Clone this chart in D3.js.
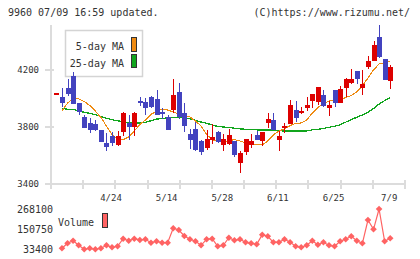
<!DOCTYPE html>
<html><head><meta charset="utf-8">
<script src="https://cdn.jsdelivr.net/npm/d3@7/dist/d3.min.js"></script>
<style>
html,body{margin:0;padding:0;background:#fff;}
svg{display:block;}
text{font-family:"DejaVu Sans Mono",monospace;fill:#333;}
</style></head>
<body>
<svg id="c" width="420" height="259"></svg>
<script>
const dates = ["4/10","4/11","4/12","4/15","4/16","4/17","4/18","4/19","4/22","4/23",
"4/24","4/26","4/30","5/1","5/2","5/7","5/8","5/9","5/10","5/13",
"5/14","5/15","5/16","5/17","5/20","5/21","5/22","5/23","5/24","5/27",
"5/28","5/29","5/30","5/31","6/3","6/4","6/5","6/6","6/7","6/10",
"6/11","6/12","6/13","6/14","6/17","6/18","6/19","6/20","6/21","6/24",
"6/25","6/26","6/27","6/28","7/1","7/2","7/3","7/4","7/5","7/8","7/9"];
const tickDates = ["4/24","5/14","5/28","6/11","6/25","7/9"];

const open  = [4040,4010,4075,4160,3970,3870,3830,3820,3780,3690,3735,3675,3765,3825,3800,3985,3975,4010,3995,3905,3870,3920,4045,3900,3750,3785,3700,3655,3710,3765,3675,3680,3700,3550,3625,3670,3745,3700,3825,3850,3710,3795,3820,3920,3910,3935,3980,3975,4025,3935,4060,3970,4075,4105,4195,4075,4225,4265,4435,4280,4125];
const high  = [4040,4075,4140,4185,3970,3885,3860,3850,3780,3760,3765,3770,3905,3885,3905,4010,4005,4015,4060,3935,3885,4135,4110,3965,3785,3835,3710,3780,3820,3775,3750,3785,3700,3635,3715,3750,3770,3765,3900,3900,3775,3830,3990,3980,3940,4010,4030,4080,4060,3985,4060,4085,4145,4205,4195,4200,4300,4405,4515,4280,4235];
const low   = [4040,3940,4015,3965,3885,3795,3760,3775,3695,3635,3665,3665,3735,3710,3735,3950,3885,3935,3885,3855,3780,3895,3855,3765,3645,3635,3605,3640,3680,3690,3635,3675,3590,3480,3605,3650,3710,3665,3790,3780,3635,3755,3820,3835,3890,3915,3935,3955,3940,3880,3940,3970,4010,4105,4100,4025,4210,4265,4285,4135,4070];
const close = [4040,3970,4030,3965,3905,3795,3780,3780,3695,3665,3685,3735,3895,3795,3900,3970,3935,3940,3885,3890,3780,4025,3870,3810,3710,3635,3625,3715,3730,3695,3715,3745,3600,3620,3715,3700,3710,3765,3855,3780,3735,3810,3955,3865,3915,3955,4030,4080,3950,3955,3970,4070,4135,4135,4140,4100,4265,4375,4295,4135,4220];

const ma5  = [null,3912,3968,4000,3997,3979,3951,3912,3867,3807,3747,3716,3712,3730,3772,3818,3849,3888,3912,3924,3919,3905,3891,3881,3870,3842,3807,3747,3712,3698,3697,3702,3712,3702,3688,3679,3677,3674,3702,3744,3772,3786,3810,3826,3828,3849,3898,3937,3961,3982,3989,3993,4007,4021,4046,4088,4144,4200,4242,4251,4260];
const ma25 = [null,3931,3924,3924,3912,3903,3896,3886,3874,3861,3851,3844,3836,3832,3830,3828,3832,3844,3855,3861,3863,3865,3867,3867,3858,3847,3835,3826,3814,3804,3800,3797,3791,3787,3784,3782,3780,3779,3779,3777,3774,3772,3772,3772,3772,3772,3780,3784,3790,3798,3805,3815,3834,3853,3868,3884,3903,3929,3961,3985,4006];

const volume = [null,37500,66800,82100,55100,31600,37500,31600,37500,55100,43400,49200,93800,82100,93800,86200,90300,70400,78600,70400,70400,154900,144900,109700,90300,78600,55100,90300,93800,49200,55100,99700,84400,90300,72700,66800,61000,117300,107900,72700,72700,90300,72700,49200,43400,55100,82100,58600,72700,55100,49200,78600,90300,107900,82100,66800,203600,149000,268100,78600,96200];

const priceTicks = [3400,3800,4200];
const volTicks = [33400,150750,268100];

const RED="#dd0000", BLUE="#4343bf", ORANGE="#ee8a11", GREEN="#11a51d", VOL="#ff6363", AXIS="#dcdcdc";

const svg = d3.select("#c");
const x = d3.scaleLinear().domain([-0.97, 62.66]).range([51, 405]);
const y = d3.scaleLinear().domain([3400, 4200]).range([184, 70]);
const yv = d3.scaleLinear().domain([33400, 268100]).range([249, 209]);

// header texts
svg.append("text").attr("x",8).attr("y",16).attr("font-size",10).text("9960 07/09 16:59 updated.");
svg.append("text").attr("x",410).attr("y",16).attr("font-size",10).attr("text-anchor","end").text("(C)https://www.rizumu.net/");

// axes
const g = svg.append("g").attr("shape-rendering","crispEdges");
g.append("line").attr("x1",x.range()[0]).attr("x2",x.range()[0]).attr("y1",25).attr("y2",y(3400)).attr("stroke",AXIS).attr("stroke-width",2);
g.append("line").attr("x1",x.range()[0]-6).attr("x2",x.range()[1]).attr("y1",y(3400)).attr("y2",y(3400)).attr("stroke",AXIS).attr("stroke-width",2);
priceTicks.forEach(v=>{
  g.append("line").attr("x1",x.range()[0]-6).attr("x2",x.range()[0]+3).attr("y1",y(v)).attr("y2",y(v)).attr("stroke",AXIS).attr("stroke-width",2);
  svg.append("text").attr("x",39).attr("y",y(v)+3).attr("font-size",9).attr("text-anchor","end").text(v);
});
const dom = x.domain();
d3.range(12).forEach(k=>{
  const xv = x(dom[0] + (dom[1]-dom[0])*k/11);
  g.append("line").attr("x1",xv).attr("x2",xv).attr("y1",y(3400)-4).attr("y2",y(3400)+5).attr("stroke",AXIS).attr("stroke-width",2);
});
tickDates.forEach(t=>{
  const i = dates.indexOf(t);
  svg.append("text").attr("x",x(i)-1).attr("y",201).attr("font-size",9).attr("text-anchor","middle").text(t);
});

// legend
const lg = svg.append("g");
lg.append("rect").attr("x",65.5).attr("y",30.5).attr("width",77).attr("height",46).attr("fill","#fff").attr("stroke","#d4d4d4").attr("stroke-width",1.5);
lg.append("text").attr("x",124).attr("y",50).attr("font-size",10).attr("text-anchor","end").text("5-day MA");
lg.append("rect").attr("x",131.5).attr("y",37.5).attr("width",5).attr("height",14).attr("fill",ORANGE).attr("stroke","#333");
lg.append("text").attr("x",124).attr("y",67).attr("font-size",10).attr("text-anchor","end").text("25-day MA");
lg.append("rect").attr("x",131.5).attr("y",54.5).attr("width",5).attr("height",13).attr("fill",GREEN).attr("stroke","#333");

// MA lines
const idx = d3.range(dates.length);
const lineOf = arr => d3.line().defined(i=>arr[i]!=null).x(i=>x(i)).y(i=>y(arr[i]));
svg.append("path").attr("d",lineOf(ma25)(idx)).attr("fill","none").attr("stroke",GREEN).attr("stroke-width",1.3).attr("shape-rendering","crispEdges");
svg.append("path").attr("d",lineOf(ma5)(idx)).attr("fill","none").attr("stroke",ORANGE).attr("stroke-width",1.1).attr("shape-rendering","crispEdges");

// candles
const cg = svg.append("g").attr("shape-rendering","crispEdges");
idx.forEach(i=>{
  const up = close[i] >= open[i];
  const col = up ? RED : BLUE;
  const cx = Math.round(x(i));
  cg.append("line").attr("x1",cx+0.5).attr("x2",cx+0.5).attr("y1",y(high[i])).attr("y2",y(low[i])).attr("stroke",col).attr("stroke-width",1);
  const top = y(Math.max(open[i],close[i])), bot = y(Math.min(open[i],close[i]));
  cg.append("rect").attr("x",cx-2).attr("y",Math.round(top)).attr("width",5).attr("height",Math.max(1.5,Math.round(bot-top))).attr("fill",col);
});

// volume
svg.append("path").attr("d",d3.line().defined(i=>volume[i]!=null).x(i=>x(i)).y(i=>yv(volume[i]))(idx))
  .attr("fill","none").attr("stroke",VOL).attr("stroke-width",1.2);
idx.filter(i=>volume[i]!=null).forEach(i=>{
  const cx=x(i), cy=yv(volume[i]), r=3.3;
  svg.append("path").attr("d",`M${cx},${cy-r}L${cx+r},${cy}L${cx},${cy+r}L${cx-r},${cy}Z`).attr("fill",VOL);
});
volTicks.forEach(v=>{
  svg.append("text").attr("x",53).attr("y",yv(v)+3.5).attr("font-size",10).attr("text-anchor","end").text(v);
});
svg.append("text").attr("x",58).attr("y",226).attr("font-size",10).text("Volume");
svg.append("rect").attr("x",102.5).attr("y",213.5).attr("width",5).attr("height",14).attr("fill",VOL).attr("stroke","#333");
</script>
</body></html>
